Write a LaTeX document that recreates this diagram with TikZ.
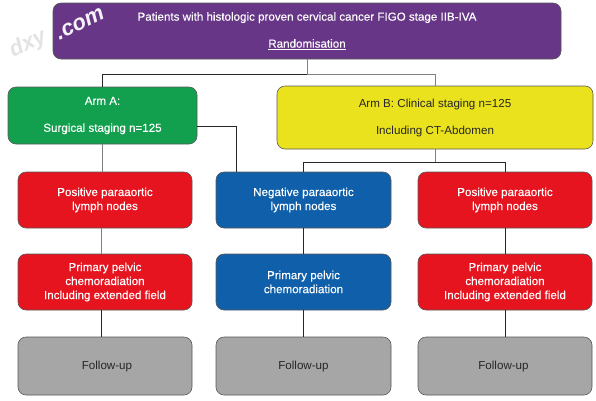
\documentclass[tikz,border=0pt]{standalone}
\usepackage{fontspec}
\usepackage{calc}
\setmainfont{Liberation Sans}
\newfontface\heavyface[FakeBold=0.2]{Liberation Sans}
\definecolor{cpurple}{HTML}{673686}
\definecolor{cgreen}{HTML}{12A04E}
\definecolor{cyellow}{HTML}{EBE21E}
\definecolor{cred}{HTML}{E5141F}
\definecolor{cblue}{HTML}{0F5FAA}
\definecolor{cgrey}{HTML}{A6A6A6}
\tikzset{
  x=1pt,y=-1pt,
  boxbase/.style={rounded corners=8pt,draw=black!65,line width=0.6pt,align=center,inner sep=0pt},
  lightbox/.style={boxbase,text=white,font=\heavyface\fontsize{11.6pt}{14pt}\selectfont},
  darkbox/.style={boxbase,text=black!85,font=\fontsize{11.6pt}{14pt}\selectfont},
  purplebox/.style={lightbox,fill=cpurple},
  greenbox/.style={lightbox,fill=cgreen},
  yellowbox/.style={darkbox,fill=cyellow},
  redbox/.style={lightbox,fill=cred},
  bluebox/.style={lightbox,fill=cblue},
  greybox/.style={darkbox,fill=cgrey},
  link/.style={draw=black!85,line width=0.7pt},
  greylink/.style={draw=black!50,line width=0.7pt},
  watermark/.style={rotate=26,font=\bfseries\itshape\fontsize{22pt}{22pt}\selectfont,inner sep=0pt},
}
\newcommand{\bx}[7]{% style,name,x0,y0,x1,y1,text
  \node[#1,minimum width=#5pt-#3pt,minimum height=#6pt-#4pt] (#2) at ({(#3+#5)/2},{(#4+#6)/2}) {#7};}
\begin{document}
\begin{tikzpicture}
\useasboundingbox (0,0) rectangle (596,400);
\fill[white] (0,0) rectangle (596,400);
\bx{purplebox}{top}{53}{3}{561}{59}{Patients with histologic proven cervical cancer FIGO stage IIB-IVA\\[13pt]\underline{Randomisation}}
\bx{greenbox}{arma}{8}{87}{197}{144}{Arm A:\\[13pt]Surgical staging n=125}
\bx{yellowbox}{armb}{277}{86}{593}{149}{Arm B: Clinical staging n=125\\[13pt]Including CT-Abdomen}
\bx{redbox}{posa}{18}{172}{192}{228}{Positive paraaortic\\lymph nodes}
\bx{bluebox}{neg}{216}{172}{391}{228}{Negative paraaortic\\lymph nodes}
\bx{redbox}{posb}{418}{172}{592}{228}{Positive paraaortic\\lymph nodes}
\bx{redbox}{prima}{18}{254}{192}{310}{Primary pelvic\\chemoradiation\\Including extended field}
\bx{bluebox}{primn}{216}{254}{391}{310}{Primary pelvic\\chemoradiation}
\bx{redbox}{primb}{418}{254}{592}{310}{Primary pelvic\\chemoradiation\\Including extended field}
\bx{greybox}{fua}{18}{337}{192}{395}{\hspace*{4pt}Follow-up}
\bx{greybox}{fun}{216}{337}{391}{395}{Follow-up}
\bx{greybox}{fub}{418}{337}{592}{395}{Follow-up\hspace*{3pt}}
% connectors
\coordinate (busT) at (307,74);
\coordinate (busB) at (435,162);
\draw[greylink] (top.south) -- (busT);
\draw[link] (arma.north) |- (busT);
\draw[greylink] (armb.north) |- (busT);
\draw[greylink] (armb.south) -- (busB);
\draw[link] (neg.north) |- (busB);
\draw[link] (posb.north) |- (busB);
\draw[link] (arma.east |- 0,126) -| (236.5,172);
\draw[greylink] ([xshift=-0.5pt]arma.south) -- ([xshift=-3pt]posa.north);
\draw[greylink] ([xshift=-3.5pt]posa.south) -- ([xshift=-3.5pt]prima.north);
\draw[link] ([xshift=-3.5pt]prima.south) -- ([xshift=-3.5pt]fua.north);
\draw[link] (neg.south) -- (primn.north);
\draw[link] (primn.south) -- (fun.north);
\draw[link] (posb.south) -- (primb.north);
\draw[link] (primb.south) -- (fub.north);
% watermark
\node[watermark,text=white!94!cpurple] (wm1) at (80,24) {.com};
\node[watermark,text=black!11] (wm2) at (28,44) {dxy};
\end{tikzpicture}
\end{document}
